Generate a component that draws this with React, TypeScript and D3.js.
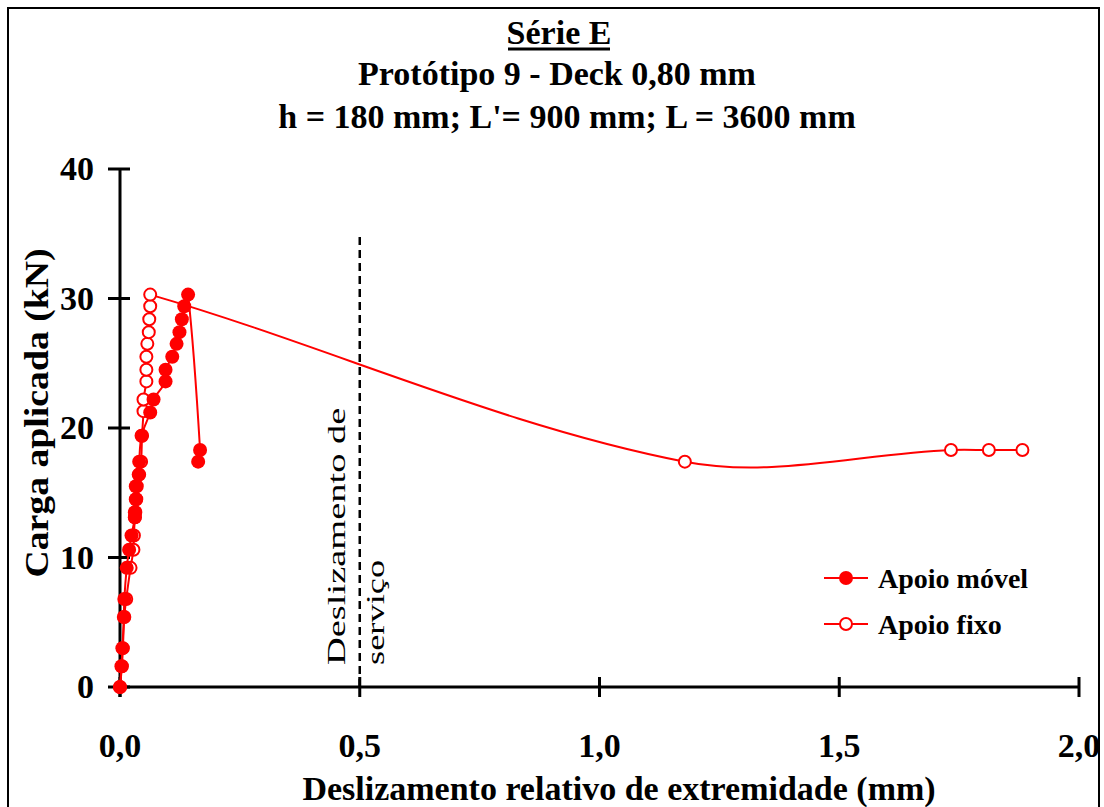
import React from "react";
import * as d3 from "d3";

// Série E - Protótipo 9
const loadMovel = [0, 1.6, 3.0, 5.4, 6.8, 9.2, 10.6, 11.7, 13.1, 13.5, 14.5, 15.5, 16.4, 17.4, 19.4, 21.2, 22.2, 23.6, 24.5, 25.5, 26.5, 27.4, 28.4, 29.4, 30.3, 18.3, 17.4];
const slipMovel = [0, 0.003, 0.005, 0.008, 0.009, 0.014, 0.019, 0.024, 0.031, 0.031, 0.033, 0.033, 0.039, 0.04, 0.045, 0.063, 0.07, 0.095, 0.095, 0.109, 0.118, 0.124, 0.129, 0.134, 0.142, 0.167, 0.163];

const loadFixo = [0, 1.6, 3.0, 5.4, 6.8, 9.2, 10.6, 11.7, 13.1, 13.5, 14.5, 15.5, 16.4, 17.4, 19.4, 21.3, 22.2, 23.6, 24.5, 25.5, 26.5, 27.4, 28.4, 29.4, 30.3, 17.4, 18.3, 18.3, 18.3];
const slipFixo = [0, 0.004, 0.006, 0.009, 0.013, 0.022, 0.028, 0.029, 0.031, 0.032, 0.034, 0.035, 0.04, 0.044, 0.046, 0.049, 0.049, 0.055, 0.055, 0.055, 0.057, 0.06, 0.061, 0.063, 0.063, 1.178, 1.733, 1.812, 1.882];

const xTicks = [0, 0.5, 1.0, 1.5, 2.0];
const yTicks = [0, 10, 20, 30, 40];
const serviceSlip = 0.5;
const serviceTop = 34.8;

const font = "Liberation Serif, Tinos, Times New Roman, serif";
const red = "#ff0000";

// excel-like smoothing: tangent from neighbours, handles scaled by chord length
function smoothPath(pts: [number, number][]) {
  const p = d3.path();
  const n = pts.length;
  if (!n) return "";
  const tan = pts.map((pt, i) => {
    const a = pts[Math.max(0, i - 1)];
    const b = pts[Math.min(n - 1, i + 1)];
    const dx = b[0] - a[0];
    const dy = b[1] - a[1];
    const len = Math.hypot(dx, dy) || 1;
    return [dx / len, dy / len];
  });
  p.moveTo(pts[0][0], pts[0][1]);
  for (let i = 0; i < n - 1; i++) {
    const a = pts[i];
    const b = pts[i + 1];
    const h = Math.hypot(b[0] - a[0], b[1] - a[1]) / 3;
    p.bezierCurveTo(
      a[0] + tan[i][0] * h,
      a[1] + tan[i][1] * h,
      b[0] - tan[i + 1][0] * h,
      b[1] - tan[i + 1][1] * h,
      b[0],
      b[1]
    );
  }
  return p.toString();
}

function App() {
  const x = d3.scaleLinear().domain([0, 2]).range([120, 1079]);
  const y = d3.scaleLinear().domain([0, 40]).range([687, 169]);

  const path = (xs: number[], ys: number[]) =>
    smoothPath(xs.map((v, i) => [x(v), y(ys[i])] as [number, number]));

  const fmt = (v: number) => v.toFixed(1).replace(".", ",");

  return (
    <svg width={1104} height={807} style={{ position: "absolute", left: 0, top: 0, background: "#fff", fontFamily: font }}>
      <rect x={8} y={8} width={1091} height={820} fill="none" stroke="#000" strokeWidth={2} />

      {/* titles */}
      <g fontWeight="bold" fontSize={34} textAnchor="middle">
        <text x={559} y={44}>Série E</text>
        <text x={557} y={85}>Protótipo 9 - Deck 0,80 mm</text>
        <text x={567} y={128}>h = 180 mm; L'= 900 mm; L = 3600 mm</text>
      </g>
      <line x1={508} x2={610} y1={49} y2={49} stroke="#000" strokeWidth={3} />

      {/* axes */}
      <line x1={x(0)} x2={x(2)} y1={y(0)} y2={y(0)} stroke="#000" strokeWidth={3} />
      <line x1={x(0)} x2={x(0)} y1={y(0) + 10} y2={y(40)} stroke="#000" strokeWidth={3} />
      {xTicks.map(t => (
        <g key={"x" + t}>
          <line x1={x(t)} x2={x(t)} y1={y(0) - 10} y2={y(0) + 10} stroke="#000" strokeWidth={3} />
          <text x={x(t)} y={757} textAnchor="middle" fontWeight="bold" fontSize={34}>{fmt(t)}</text>
        </g>
      ))}
      {yTicks.map(t => (
        <g key={"y" + t}>
          <line x1={x(0) - 12} x2={x(0) + 10} y1={y(t)} y2={y(t)} stroke="#000" strokeWidth={3} />
          <text x={94} y={y(t) + 11} textAnchor="end" fontWeight="bold" fontSize={34}>{t}</text>
        </g>
      ))}
      <text x={619} y={800} textAnchor="middle" fontWeight="bold" fontSize={34}>Deslizamento relativo de extremidade (mm)</text>
      <text transform="translate(48,413) rotate(-90) scale(1.11,1)" textAnchor="middle" fontWeight="bold" fontSize={34}>Carga aplicada (kN)</text>

      {/* service slip */}
      <line x1={x(serviceSlip)} x2={x(serviceSlip)} y1={y(0)} y2={y(serviceTop)} stroke="#000" strokeWidth={2.5} strokeDasharray="8,5" />
      <g fontSize={26}>
        <text transform="translate(345,665) rotate(-90) scale(1.48,1)">Deslizamento de</text>
        <text transform="translate(384,665) rotate(-90) scale(1.4,1)">serviço</text>
      </g>

      {/* series */}
      <path d={path(slipFixo, loadFixo)} fill="none" stroke={red} strokeWidth={2} />
      {slipFixo.map((s, i) => (
        <circle key={"f" + i} cx={x(s)} cy={y(loadFixo[i])} r={6} fill="#fff" stroke={red} strokeWidth={2} />
      ))}
      <path d={path(slipMovel, loadMovel)} fill="none" stroke={red} strokeWidth={2} />
      {slipMovel.map((s, i) => (
        <circle key={"m" + i} cx={x(s)} cy={y(loadMovel[i])} r={7} fill={red} />
      ))}

      {/* legend */}
      <g>
        <line x1={824} x2={868} y1={578} y2={578} stroke={red} strokeWidth={2} />
        <circle cx={846} cy={578} r={7} fill={red} />
        <text x={878} y={588} fontWeight="bold" fontSize={28}>Apoio móvel</text>
        <line x1={824} x2={868} y1={624} y2={624} stroke={red} strokeWidth={2} />
        <circle cx={846} cy={624} r={6} fill="#fff" stroke={red} strokeWidth={2} />
        <text x={878} y={634} fontWeight="bold" fontSize={28}>Apoio fixo</text>
      </g>
    </svg>
  );
}

export default App;
